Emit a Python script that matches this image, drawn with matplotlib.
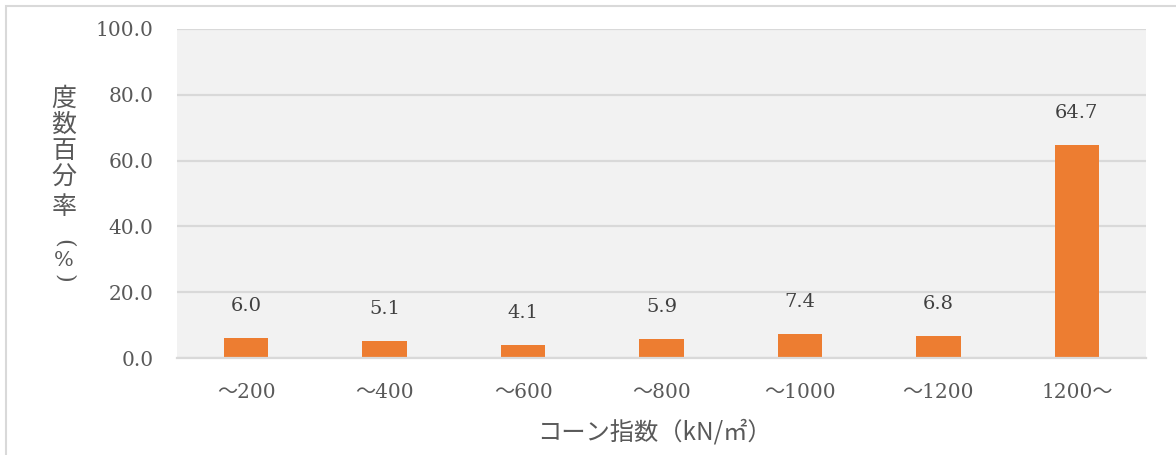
import matplotlib
matplotlib.use("Agg")
import matplotlib.pyplot as plt
from matplotlib.patches import Rectangle
import numpy as np

categories = ["～200", "～400", "～600", "～800", "～1000", "～1200", "1200～"]
values = [6.0, 5.1, 4.1, 5.9, 7.4, 6.8, 64.7]
yticks = [0, 20, 40, 60, 80, 100]
ylabel_chars = ["度", "数", "百", "分", "率", "(", "%", ")"]
xlabel = "コーン指数（kN/㎡）"

FAM = ["DejaVu Serif", "Noto Sans CJK JP", "DejaVu Sans"]
CJK = ["Noto Sans CJK JP", "DejaVu Sans"]
plt.rcParams["font.family"] = FAM

W, H = 1176, 455
fig = plt.figure(figsize=(W / 100, H / 100), dpi=100)
ax = fig.add_axes([177 / W, 1 - 358 / H, (1146 - 177) / W, (358 - 29) / H])

ax.set_facecolor("#f2f2f2")
x = np.arange(len(categories))
ax.bar(x, values, width=0.32, color="#ED7D31", zorder=3)
ax.set_xlim(-0.5, len(categories) - 0.5)
ax.set_ylim(0, 100)
ax.set_yticks(yticks)
ax.set_yticklabels([f"{v:.1f}" for v in yticks], fontsize=14.5, color="#595959")
ax.set_xticks(x)
ax.set_xticklabels(categories, fontsize=14.5, color="#595959")
ax.tick_params(axis="y", length=0, pad=17)
ax.tick_params(axis="x", length=0, pad=18)
ax.grid(axis="y", color="#d9d9d9", linewidth=1.6, zorder=1)
for s in ["top", "right", "left"]:
    ax.spines[s].set_visible(False)
ax.spines["bottom"].set_color("#d9d9d9")
ax.spines["bottom"].set_linewidth(1.6)
ax.spines["bottom"].set_zorder(4)

for xi, v in zip(x, values):
    ax.annotate(f"{v:.1f}", (xi, v), xytext=(0, 23), textcoords="offset points",
                ha="center", va="center", fontsize=14, color="#404040")

ycenters = [99, 125, 151, 178, 207, 243, 260, 278]
for ch, yc in zip(ylabel_chars, ycenters):
    if ch == "%":
        fig.text(64 / W, 1 - yc / H, ch, ha="center", va="center", fontsize=15,
                 color="#595959", family=["DejaVu Serif"])
    elif ch in "()":
        fig.text(64 / W, 1 - yc / H, ch, ha="center", va="center", fontsize=16,
                 color="#595959", family=["DejaVu Serif"], rotation=-90)
    else:
        fig.text(64 / W, 1 - yc / H, ch, ha="center", va="center", fontsize=18,
                 color="#595959", family=CJK)

fig.text(654 / W, 1 - 433 / H, xlabel, ha="center", va="center", fontsize=17.5,
         color="#595959", family=CJK)

fig.patches.append(Rectangle((6 / W, -0.1), 1.2, 1.1 - 6 / H, transform=fig.transFigure,
                             fill=False, edgecolor="#d9d9d9", linewidth=1.5))

fig.savefig("out.png", dpi=100)
